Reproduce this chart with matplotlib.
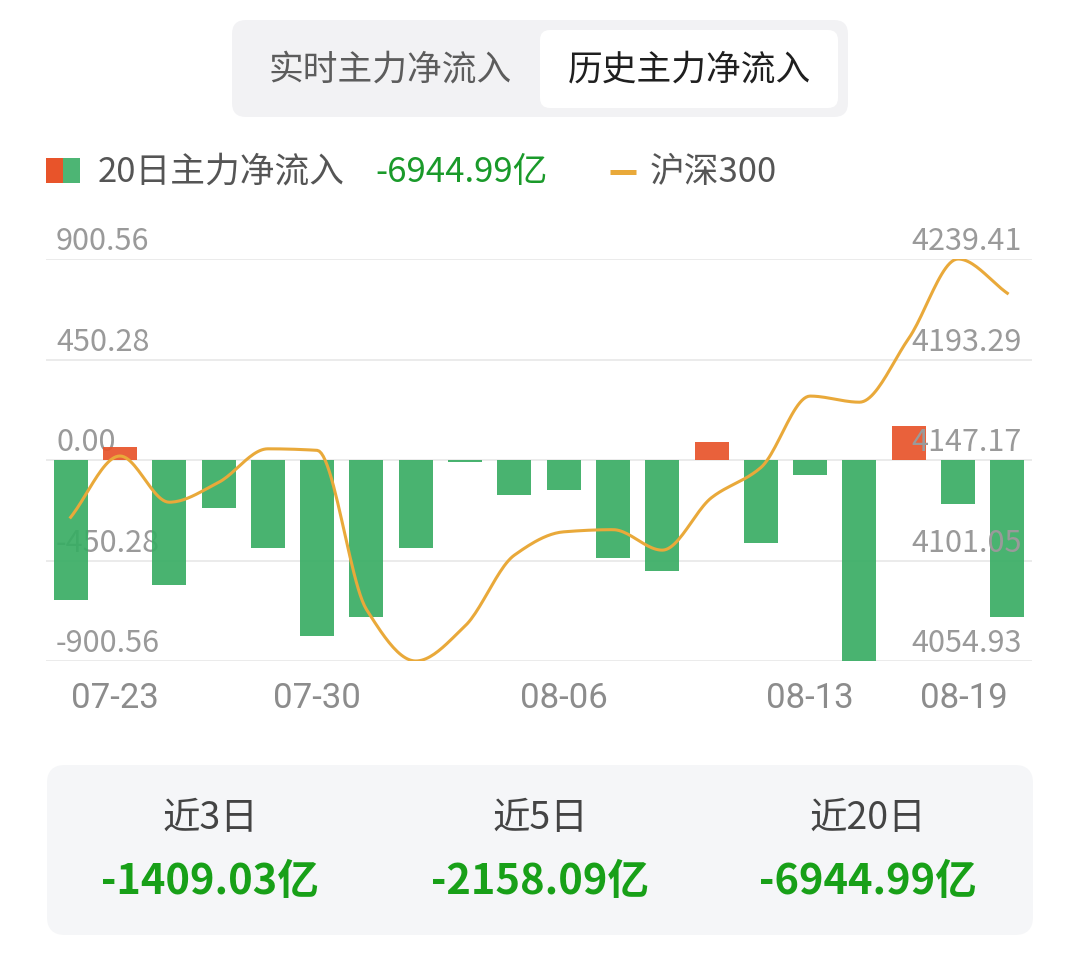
"""历史主力净流入 vs 沪深300（20 日）"""

import numpy as np
import matplotlib
matplotlib.use("Agg")
import matplotlib.pyplot as plt
from matplotlib.patches import FancyBboxPatch, Rectangle

plt.rcParams["font.family"] = ["Noto Sans CJK SC", "DejaVu Sans"]

# ---- données ----
dates = ["07-23", "07-24", "07-25", "07-26", "07-29", "07-30", "07-31",
         "08-01", "08-02", "08-05", "08-06", "08-07", "08-08", "08-09",
         "08-12", "08-13", "08-14", "08-15", "08-16", "08-19"]
flows = [-627, 58, -560, -216, -396, -788, -702, -393, -10, -156,
         -136, -438, -497, 79, -374, -67, -900.56, 153, -195, -705]
hs300 = [4120.9, 4149.0, 4127.8, 4136.9, 4152.3, 4151.6, 4078.6, 4054.93,
         4071.0, 4103.5, 4114.2, 4115.2, 4105.8, 4129.9, 4143.7, 4176.5,
         4173.7, 4203.0, 4239.41, 4223.7]
tick_idx = [0, 5, 10, 15, 19]
left_ticks = [900.56, 450.28, 0.0, -450.28, -900.56]
right_ticks = [4239.41, 4193.29, 4147.17, 4101.05, 4054.93]
tabs = ["实时主力净流入", "历史主力净流入"]
summary_labels = ["近3日", "近5日", "近20日"]
summary_values = ["-1409.03亿", "-2158.09亿", "-6944.99亿"]
total_label = "-6944.99亿"

GREEN = "#39ad64"
RED = "#e8542a"
ORANGE = "#e9a93a"
GRID = "#e8e8e8"
LABEL = "#9a9a9a"


def monotone(x, y, n=24):
    """Courbe lissée monotone (Fritsch-Carlson) passant par les points."""
    x = np.asarray(x, float)
    y = np.asarray(y, float)
    h = np.diff(x)
    d = np.diff(y) / h
    m = np.zeros_like(y)
    m[0], m[-1] = d[0], d[-1]
    for i in range(1, len(y) - 1):
        if d[i - 1] * d[i] > 0:
            w1 = 2 * h[i] + h[i - 1]
            w2 = h[i] + 2 * h[i - 1]
            m[i] = (w1 + w2) / (w1 / d[i - 1] + w2 / d[i])
    xs, ys = [], []
    for i in range(len(h)):
        t = np.linspace(0, 1, n, endpoint=False)
        h00 = 2 * t**3 - 3 * t**2 + 1
        h10 = t**3 - 2 * t**2 + t
        h01 = -2 * t**3 + 3 * t**2
        h11 = t**3 - t**2
        xs.append(x[i] + t * h[i])
        ys.append(h00 * y[i] + h10 * h[i] * m[i] + h01 * y[i + 1] + h11 * h[i] * m[i + 1])
    xs.append([x[-1]])
    ys.append([y[-1]])
    return np.concatenate(xs), np.concatenate(ys)


W, H = 1080, 958
fig = plt.figure(figsize=(W / 100, H / 100), dpi=100)
fig.patch.set_facecolor("white")

# calque de fond en pixels (0,0 en haut à gauche)
bg = fig.add_axes([0, 0, 1, 1], zorder=0)
bg.set_xlim(0, W)
bg.set_ylim(H, 0)
bg.axis("off")

# onglets
bg.add_patch(FancyBboxPatch((232, 20), 616, 97, boxstyle="round,pad=0,rounding_size=14",
                            fc="#f2f2f4", ec="none"))
bg.add_patch(FancyBboxPatch((540, 30), 298, 78, boxstyle="round,pad=0,rounding_size=10",
                            fc="white", ec="none"))
bg.text(390, 70, tabs[0], fontsize=25, color="#5c5c5c", ha="center", va="center")
bg.text(689, 70, tabs[1], fontsize=25, color="#1f1f1f", ha="center", va="center")

# légende
bg.add_patch(Rectangle((46, 158), 17, 25, fc=RED, ec="none"))
bg.add_patch(Rectangle((63, 158), 17, 25, fc="#4db574", ec="none"))
bg.text(98, 172, "20日主力净流入", fontsize=25, color="#555555", ha="left", va="center")
bg.text(375, 172, total_label, fontsize=25, color="#1a9a2a", ha="left", va="center")
bg.plot([610, 636], [172, 172], color=ORANGE, lw=3.6, solid_capstyle="butt")
bg.text(650, 172, "沪深300", fontsize=25, color="#555555", ha="left", va="center")

# panneau du bas
bg.add_patch(FancyBboxPatch((47, 765), 986, 170, boxstyle="round,pad=0,rounding_size=18",
                            fc="#f5f6f8", ec="none"))
for cx, lab, val in zip([210, 540, 868], summary_labels, summary_values):
    bg.text(cx, 818, lab, fontsize=27, color="#444444", ha="center", va="center")
    bg.text(cx, 882, val, fontsize=30, color="#18a018", ha="center", va="center",
            fontweight="bold")

# ---- graphique ----
ax = fig.add_axes([46 / W, 1 - 661 / H, 986 / W, 402 / H], zorder=1)
ax.patch.set_alpha(0)
x = np.arange(len(flows))
colors = [RED if v > 0 else GREEN for v in flows]
ax.bar(x, flows, width=0.69, color=colors, alpha=0.92, zorder=3)
for v in left_ticks:
    ax.axhline(v, color=GRID, lw=1.2, zorder=1)
ax.set_xlim(-0.5, len(flows) - 0.5)
ax.set_ylim(-900.56, 900.56)
ax.axis("off")

ytr = ax.get_yaxis_transform()
for v in left_ticks:
    ax.annotate("%.2f" % v, (10 / 986, v), xycoords=ytr, xytext=(0, 12.5),
                textcoords="offset points", fontsize=22, color=LABEL,
                ha="left", va="center", zorder=2)

ax2 = ax.twinx()
ax2.set_ylim(right_ticks[-1], right_ticks[0])
ax2.axis("off")
xs, ys = monotone(x, hs300)
ax2.plot(xs, ys, color=ORANGE, lw=2.2, zorder=5)
ytr2 = ax2.get_yaxis_transform()
for v in right_ticks:
    ax2.annotate("%.2f" % v, (976 / 986, v), xycoords=ytr2, xytext=(0, 12.5),
                 textcoords="offset points", fontsize=22, color=LABEL,
                 ha="right", va="center", zorder=2)

xtr = ax.get_xaxis_transform()
for k, i in enumerate(tick_idx):
    ha = "left" if k == 0 else ("right" if k == len(tick_idx) - 1 else "center")
    ax.text(i, -38 / 402, dates[i], transform=xtr, fontsize=25, color="#8c8c8c",
            ha=ha, va="center", family=["Liberation Sans Narrow", "Roboto"])

fig.savefig("out.png", dpi=100)
